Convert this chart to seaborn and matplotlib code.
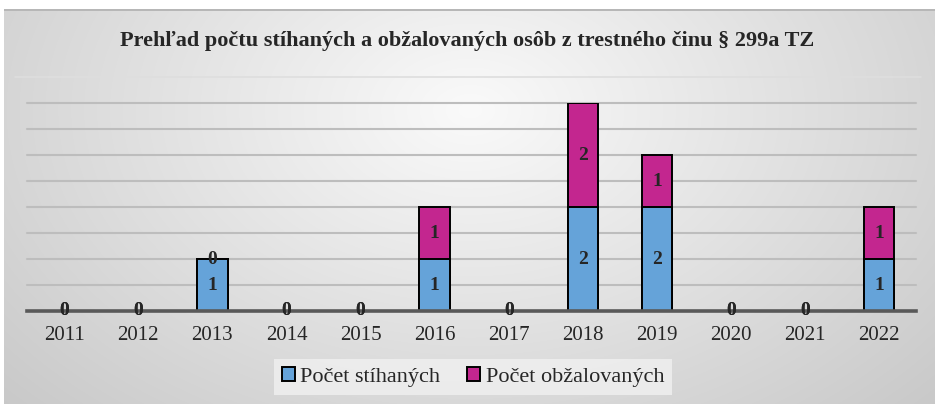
import matplotlib
matplotlib.use('Agg')
import numpy as np
import pandas as pd
import matplotlib.pyplot as plt
from matplotlib.patches import Patch
import seaborn as sns

# Údaje z grafu
roky = ['2011', '2012', '2013', '2014', '2015', '2016', '2017', '2018', '2019', '2020', '2021', '2022']
stihanych = [0, 0, 1, 0, 0, 1, 0, 2, 2, 0, 0, 1]
obzalovanych = [0, 0, 0, 0, 0, 1, 0, 2, 1, 0, 0, 1]
nazov = 'Prehľad počtu stíhaných a obžalovaných osôb z trestného činu § 299a TZ'
legenda = ['Počet stíhaných', 'Počet obžalovaných']

modra = '#65a3d9'
fialova = '#c3268f'

sns.set_style('white')
plt.rcParams['font.family'] = ['Liberation Serif', 'DejaVu Serif']

df = pd.DataFrame({'rok': roky, 'stihanych': stihanych, 'obzalovanych': obzalovanych})
df['spolu'] = df['stihanych'] + df['obzalovanych']

fig = plt.figure(figsize=(9.35, 4.04), dpi=100)

# Pozadie s jemným prechodom
bg = fig.add_axes([0, 0, 1, 1], zorder=-10)
yy, xx = np.mgrid[0:404, 0:935]
dist = np.sqrt(((xx - 470) / 560.0) ** 2 + ((yy - 110) / 380.0) ** 2)
shade = np.clip(0.98 - 0.17 * dist, 0.78, 0.98)
img = np.dstack([shade, shade, shade])
img[:9, :, :] = 1.0
img[:, :4, :] = 1.0
img[9:11, 4:, :] = 0.72
bg.imshow(img, aspect='auto', extent=[0, 1, 0, 1], origin='upper')
bg.axis('off')
bg.plot([0.016, 0.985], [1 - 77 / 404, 1 - 77 / 404], color='#dedede', lw=1.2)
bg.set_xlim(0, 1)
bg.set_ylim(0, 1)

ax = fig.add_axes([0.029, 0.2302, 0.951, 0.5148])
ax.patch.set_alpha(0)

# Stĺpce: celkový súčet (fialová), potom stíhané (modrá) navrch
sns.barplot(data=df, x='rok', y='spolu', color=fialova, saturation=1, width=0.41,
            edgecolor='black', linewidth=1.4, ax=ax, zorder=3)
sns.barplot(data=df, x='rok', y='stihanych', color=modra, saturation=1, width=0.41,
            edgecolor='black', linewidth=1.4, ax=ax, zorder=4)

# Popisky hodnôt
for i, r in df.iterrows():
    ax.text(i, r['stihanych'] / 2, str(r['stihanych']), ha='center', va='center',
            fontsize=14, fontweight='bold', zorder=6)
    ax.text(i, r['stihanych'] + r['obzalovanych'] / 2, str(r['obzalovanych']),
            ha='center', va='center', fontsize=14, fontweight='bold', zorder=6)

ax.set_ylim(0, 4.0)
ax.set_xlim(-0.5, len(roky) - 0.5)
ax.set_yticks(np.arange(0.5, 4.01, 0.5))
ax.yaxis.grid(True, color='#bdbdbd', linewidth=1.5, zorder=0)
ax.set_axisbelow(True)
ax.tick_params(axis='y', left=False, labelleft=False)
ax.tick_params(axis='x', bottom=False, labelsize=15, pad=7)
for lab in ax.get_xticklabels():
    lab.set_fontfamily('Liberation Serif')
for g in ax.get_ygridlines():
    g.set_clip_on(False)
for s in ['top', 'right', 'left']:
    ax.spines[s].set_visible(False)
ax.spines['bottom'].set_color('#595959')
ax.spines['bottom'].set_linewidth(2.6)
ax.spines['bottom'].set_zorder(5)
ax.set_xlabel('')
ax.set_ylabel('')

fig.text(0.5, 1 - 41 / 404, nazov, ha='center', va='center', fontsize=16, fontweight='bold')

handles = [Patch(facecolor=modra, edgecolor='black', linewidth=1.4),
           Patch(facecolor=fialova, edgecolor='black', linewidth=1.4)]
leg = fig.legend(handles, legenda, loc='center', bbox_to_anchor=(473 / 935, 1 - 377 / 404),
                 ncol=2, fontsize=16, frameon=True, fancybox=False, handlelength=0.6,
                 handleheight=0.6, handletextpad=0.25, columnspacing=1.2, borderpad=0.35)
leg.get_frame().set_facecolor('#eeeeee')
leg.get_frame().set_edgecolor('none')
leg.get_frame().set_alpha(0.9)

plt.savefig('out.png', dpi=100)
plt.close()
